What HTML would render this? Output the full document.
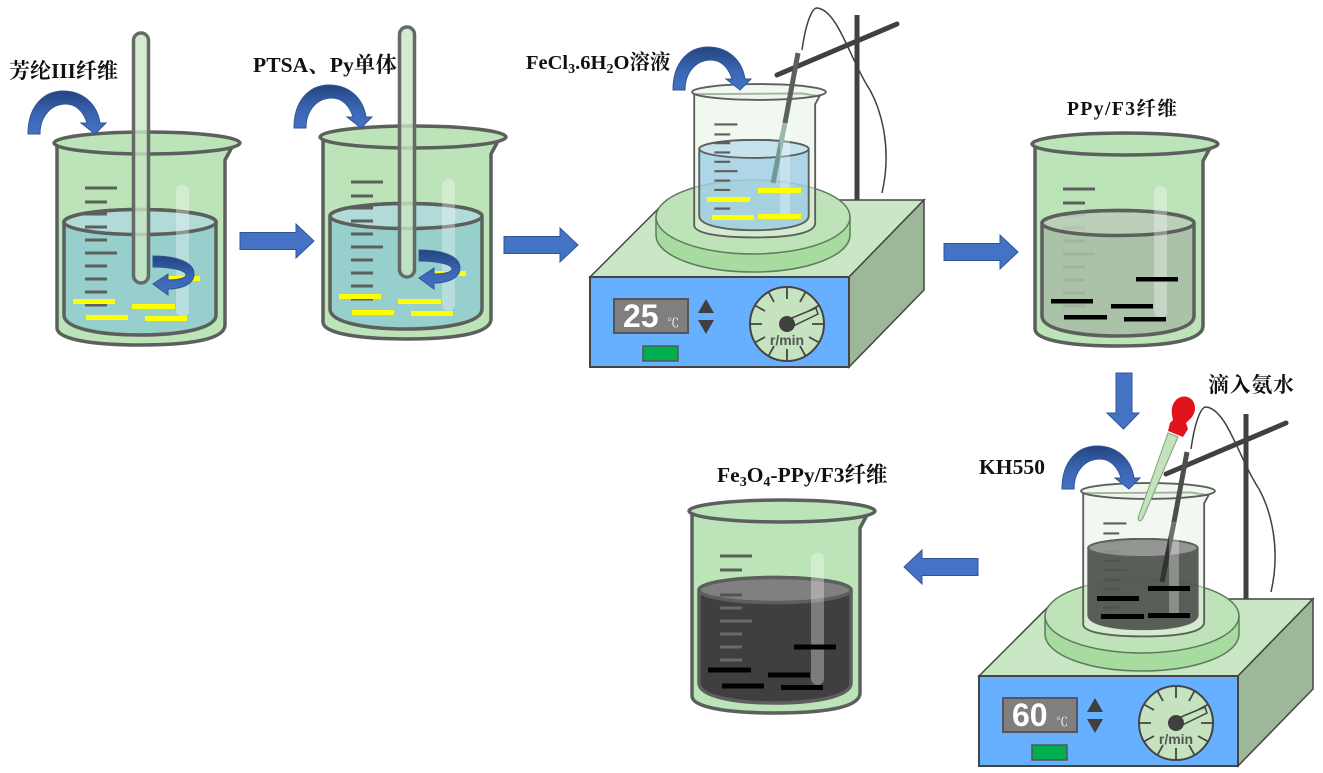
<!DOCTYPE html>
<html>
<head>
<meta charset="utf-8">
<style>
html,body{margin:0;padding:0;background:#fff}
svg{display:block}
.lb{font-family:"Liberation Serif","Noto Serif CJK SC",serif;font-weight:700;fill:#111}
.sub{font-size:14px}
</style>
</head>
<body>
<svg width="1323" height="773" viewBox="0 0 1323 773" xmlns="http://www.w3.org/2000/svg">
<defs>
<linearGradient id="bg" x1="0" y1="0" x2="0" y2="1"><stop offset="0" stop-color="#24457f"/><stop offset=".55" stop-color="#3a66b4"/><stop offset="1" stop-color="#4472c4"/></linearGradient>
<g id="body" stroke="#5c605c" style="stroke-width:var(--sw,3.5)" stroke-linejoin="round">
  <path d="M-90,3 L-90,185 C-90,198 -45,202 -7,202 C35,202 78,198 78,182 L78,17 L84,6 L60,2 Z"/>
  <ellipse cx="0" cy="0" rx="93" ry="11"/>
</g>
<g id="ticks" stroke="#5c605c" stroke-width="3" fill="none">
  <path d="M-62,45H-30M-62,59H-40M-62,71H-40M-62,84H-40M-62,97H-40M-62,110H-30M-62,123H-40M-62,136H-40M-62,149H-40M-62,162H-40"/>
</g>
<g id="liquid" stroke="#5c605c" style="stroke-width:var(--sw,3.5)">
  <path d="M-83,79 L-83,172 C-83,186 -45,192 -7,192 C31,192 69,186 69,172 L69,79 A76,12.5 0 0 0 -83,79 Z"/>
  <ellipse cx="-7" cy="79" rx="76" ry="12.5" style="fill:#fff;fill-opacity:var(--t)"/>
</g>
<rect id="hl" x="29" y="42" width="13" height="132" rx="6.5" fill="#fff" opacity=".32"/>
<g id="bend" fill="url(#bg)" stroke="#2f5597" stroke-width="1">
  <path d="M28,134 C28,106 44,91 63,91 C83,91 97,104 100,123 L106,123 L95,134 L81,123 L87,123 C84,112 76,104 66,104 C52,104 40,115 40,134 Z"/>
</g>
<g id="swirl" fill="url(#bg)" stroke="#2f5597" stroke-width="1">
  <path d="M153,256 C176,256 194,262 194,274 C194,285 180,289 168,289 L168,295 L153,284 L168,274 L168,280 C178,280 186,278 186,275 C186,270 170,267 153,267 Z"/>
</g>
<g id="rod">
  <rect x="133.500" y="33" width="15" height="250" rx="7.500" fill="#c8e6c4" fill-opacity=".8" stroke="#666a66" stroke-width="3.500"/>
</g>
<g id="arrowR"><path d="M0,-8.500H56V-17L74,0L56,17V8.500H0Z" fill="#4472c4" stroke="#2f5597" stroke-width="1"/></g>
<g id="stand">
  <path d="M590,277L667,200H924L849,277Z" fill="#c9e7c5" stroke="#444" stroke-width="1.500"/>
  <path d="M849,277L924,200V290L849,367Z" fill="#9db899" stroke="#444" stroke-width="1.500"/>
  <rect x="590" y="277" width="259" height="90" fill="#66b0ff" stroke="#444" stroke-width="2"/>
  <rect x="614" y="299" width="74" height="34" fill="#7f7f7f" stroke="#555" stroke-width="2"/>
  <path d="M706,299L714,313H698ZM698,320H714L706,334Z" fill="#404040"/>
  <rect x="643" y="346" width="35" height="15" fill="#00b050" stroke="#555" stroke-width="1.500"/>
  <circle cx="787" cy="324" r="37" fill="#c5e3bf" stroke="#444" stroke-width="2"/>
  <path d="M787,287V299M787,349V361M750,324H762M812,324H824M768.500,292L774,302M805.500,292L800,302M768.500,356L774,346M805.500,356L800,346M755,305.500L765,311M819,305.500L809,311M755,342.500L765,337M819,342.500L809,337" stroke="#444" stroke-width="1.800" fill="none"/>
  <path d="M787,320L816,308L818,314L789,328Z" fill="#c5e3bf" stroke="#444" stroke-width="1.500"/>
  <circle cx="787" cy="324" r="8" fill="#404040"/>
  <text x="787" y="345" text-anchor="middle" font-family="Liberation Sans,sans-serif" font-size="14" font-weight="700" fill="#555">r/min</text>
</g>
<g id="disc" stroke="#5c7c5c" stroke-width="1.500">
  <path d="M656,217V235C656,256 700,272 753,272C806,272 850,256 850,235V217Z" fill="#a8dba0"/>
  <ellipse cx="753" cy="217" rx="97" ry="37" fill="#bfe3b8"/>
</g>
<g id="clamp">
  <path d="M857,15V200" stroke="#404040" stroke-width="5" fill="none"/>
  <path d="M802,50C806,22 812,8 817,8C838,10 850,60 870,90C882,112 892,150 882,193" stroke="#404040" stroke-width="1.500" fill="none"/>
  <path d="M777,75L897,24" stroke="#404040" stroke-width="5" stroke-linecap="round" fill="none"/>
</g>
</defs>

<!-- Beaker 1 -->
<g transform="translate(147,143)"><use href="#body" fill="#bde3b8"/><use href="#liquid" fill="#96cfcc" style="--t:.25"/><use href="#ticks"/></g>
<use href="#rod"/>
<use href="#hl" transform="translate(147,143)"/>
<g fill="#ffff00"><rect x="73" y="299" width="42" height="5"/><rect x="132" y="304" width="43" height="5"/><rect x="86" y="315" width="42" height="5"/><rect x="145" y="316" width="42" height="5"/><rect x="165" y="276" width="35" height="5"/></g>
<use href="#swirl"/>
<use href="#bend"/>

<!-- Beaker 2 -->
<g transform="translate(413,137)"><use href="#body" fill="#bde3b8"/><use href="#liquid" fill="#96cfcc" style="--t:.25"/><use href="#ticks"/></g>
<use href="#rod" transform="translate(266,-6)"/>
<use href="#hl" transform="translate(413,137)"/>
<g fill="#ffff00" transform="translate(266,-5)"><rect x="73" y="299" width="42" height="5"/><rect x="132" y="304" width="43" height="5"/><rect x="86" y="315" width="42" height="5"/><rect x="145" y="316" width="42" height="5"/><rect x="165" y="276" width="35" height="5"/></g>
<use href="#swirl" transform="translate(266,-6)"/>
<use href="#bend" transform="translate(266,-6)"/>

<!-- Stirrer 1 -->
<use href="#clamp"/>
<use href="#stand"/>
<use href="#disc"/>
<g transform="translate(759,92) scale(.72)" style="--sw:2.6">
  <use href="#body" fill="#e6f3e3" fill-opacity=".55"/>
  <use href="#liquid" fill="#8fc6e4" fill-opacity=".68" style="--t:.3"/>
  <use href="#ticks"/>
</g>
<path d="M798,53L785,123" stroke="#5c605c" stroke-width="5" fill="none"/>
<path d="M785,123L773,183" stroke="#6f9a90" stroke-width="5" fill="none"/>
<rect x="780" y="123" width="10" height="93" fill="#fff" opacity=".3"/>
<g fill="#ffff00"><rect x="707" y="197" width="43" height="5"/><rect x="758" y="188" width="43" height="5"/><rect x="712" y="215" width="42" height="5"/><rect x="758" y="214" width="43" height="5"/></g>
<use href="#bend" transform="translate(645,-44)"/>
<text x="623" y="327" font-family="Liberation Sans,sans-serif" font-size="32" font-weight="700" fill="#fff">25</text>
<text x="667" y="327" font-family="Liberation Serif,'Noto Serif CJK SC',serif" font-size="12" fill="#fff">℃</text>

<!-- Beaker 4 -->
<g transform="translate(1125,144)"><use href="#body" fill="#bde3b8"/><use href="#ticks"/><use href="#liquid" fill="#a7bfa6" fill-opacity=".9" style="--t:.2"/></g>
<use href="#hl" transform="translate(1125,144)"/>
<g fill="#000"><rect x="1051" y="299" width="42" height="4.500"/><rect x="1111" y="304" width="42" height="4.500"/><rect x="1064" y="315" width="43" height="4.500"/><rect x="1124" y="317" width="42" height="4.500"/><rect x="1136" y="277" width="42" height="4.500"/></g>

<!-- Stirrer 2 -->
<g transform="translate(389,399)">
  <use href="#clamp"/>
  <use href="#stand"/>
  <use href="#disc"/>
  <g transform="translate(759,92) scale(.72)" style="--sw:2.6">
    <use href="#body" fill="#e6f3e3" fill-opacity=".55"/>
    <use href="#ticks"/>
    <use href="#liquid" fill="#4d534c" fill-opacity=".93" style="--t:.35"/>
  </g>
  <path d="M798,53L785,123" stroke="#4a4f4a" stroke-width="5" fill="none"/>
  <path d="M785,123L773,183" stroke="#333" stroke-width="5" fill="none"/>
  <rect x="780" y="123" width="10" height="93" fill="#fff" opacity=".3"/>
  <g fill="#000"><rect x="708" y="197" width="42" height="5"/><rect x="759" y="187" width="42" height="5"/><rect x="712" y="215" width="43" height="5"/><rect x="759" y="214" width="42" height="5"/></g>
  <use href="#bend" transform="translate(645,-44)"/>
  <text x="623" y="327" font-family="Liberation Sans,sans-serif" font-size="32" font-weight="700" fill="#fff">60</text>
  <text x="667" y="327" font-family="Liberation Serif,'Noto Serif CJK SC',serif" font-size="12" fill="#fff">℃</text>
</g>
<!-- Dropper -->
<path d="M1168,433L1178,437L1143,518Q1139,524 1138,518Z" fill="#c3e2bd" stroke="#7da17a" stroke-width="1"/>
<path d="M1176,400C1183,393 1195,397 1195,408C1195,416 1189,420 1186,423L1188,429L1183,437L1168,431L1170,423L1173,420C1171,412 1171,405 1176,400Z" fill="#e1141c"/>

<!-- Beaker 6 -->
<g transform="translate(782,511)">
  <use href="#body" fill="#bde3b8"/><use href="#ticks"/>
  <use href="#liquid" fill="#3f3f3f" style="--t:.34"/>
  <path d="M-62,84H-40" stroke="#4f524f" stroke-width="3"/>
  <path d="M-62,97H-40M-62,110H-30M-62,123H-40M-62,136H-40M-62,149H-40" stroke="#6a6a6a" stroke-width="3"/>
</g>
<use href="#hl" transform="translate(782,511)" opacity="1"/>
<g fill="#000"><rect x="708" y="667.500" width="43" height="5"/><rect x="768" y="672.500" width="42" height="5"/><rect x="722" y="683.500" width="42" height="5"/><rect x="781" y="685" width="42" height="5"/><rect x="794" y="644.500" width="42" height="5"/></g>

<!-- Block arrows -->
<use href="#arrowR" transform="translate(240,241)"/>
<use href="#arrowR" transform="translate(504,245)"/>
<use href="#arrowR" transform="translate(944,252)"/>
<use href="#arrowR" transform="translate(978,567) scale(-1,1)"/>
<path d="M1116,373H1132V413H1139L1123.500,429L1107,413H1116Z" fill="#4472c4" stroke="#2f5597" stroke-width="1"/>

<!-- Labels -->
<text class="lb" x="9" y="78" font-size="21" textLength="109">芳纶III纤维</text>
<text class="lb" x="253" y="72" font-size="21.500" textLength="144">PTSA、Py单体</text>
<text class="lb" x="526" y="69" font-size="20.500">FeCl<tspan class="sub" dy="4">3</tspan><tspan dy="-4">.6H</tspan><tspan class="sub" dy="4">2</tspan><tspan dy="-4">O溶液</tspan></text>
<text class="lb" x="1067" y="115" font-size="19.600" textLength="110">PPy/F3纤维</text>
<text class="lb" x="1208" y="392" font-size="21" textLength="86">滴入氨水</text>
<text class="lb" x="979" y="474" font-size="21.500" textLength="66">KH550</text>
<text class="lb" x="717" y="482" font-size="21.500">Fe<tspan class="sub" dy="4">3</tspan><tspan dy="-4">O</tspan><tspan class="sub" dy="4">4</tspan><tspan dy="-4">-PPy/F3纤维</tspan></text>
</svg>
</body>
</html>
